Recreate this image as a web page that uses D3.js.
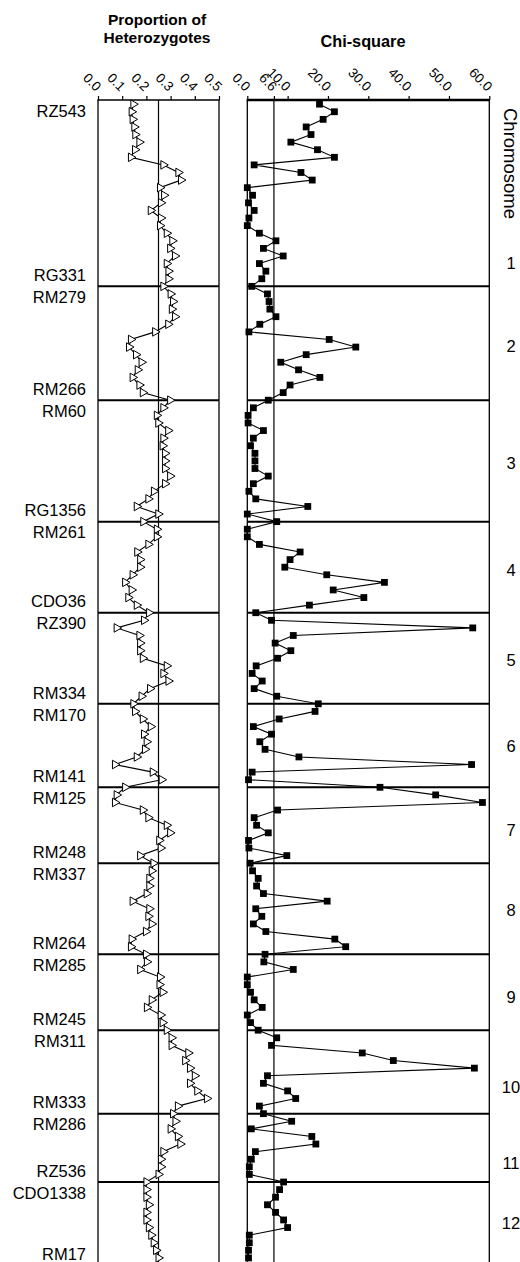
<!DOCTYPE html>
<html>
<head>
<meta charset="utf-8">
<script src="https://cdn.jsdelivr.net/npm/d3@7"></script>
<style>
body { margin: 0; background: #fff; }
text { font-family: "Liberation Sans", Arial, sans-serif; fill: #000; }
</style>
</head>
<body>
<div id="chart"></div>
<script>
var chromosomes = ["1", "2", "3", "4", "5", "6", "7", "8", "9", "10", "11", "12"];
// marker index where each chromosome starts (first is the top of the plot)
var chrStart = [0, 24, 39, 55, 67, 79, 90, 100, 112, 122, 133, 142];
var chrLabelPos = [20.9, 31.9, 47.3, 61.4, 73.3, 84.6, 95.7, 106.2, 117.7, 129.5, 139.5, 147.4];
var firstMarker = ["RZ543", "RM279", "RM60", "RM261", "RZ390", "RM170", "RM125", "RM337", "RM285", "RM311", "RM286", "CDO1338"];
var lastMarker = ["RG331", "RM266", "RG1356", "CDO36", "RM334", "RM141", "RM248", "RM264", "RM245", "RM333", "RZ536", "RM17"];

var het = [
  0.146, 0.139, 0.143, 0.150, 0.154, 0.171, 0.153, 0.136, 0.270, 0.332, 0.343, 0.256, 0.273, 0.260, 0.218, 0.260, 0.256, 0.284, 0.307, 0.298, 0.318, 0.284, 0.291, 0.291,
  0.270, 0.300, 0.310, 0.305, 0.318, 0.290, 0.236, 0.136, 0.128, 0.157, 0.180, 0.164, 0.143, 0.171, 0.185,
  0.298, 0.270, 0.243, 0.249, 0.290, 0.270, 0.267, 0.277, 0.277, 0.277, 0.298, 0.277, 0.231, 0.208, 0.160, 0.249,
  0.187, 0.243, 0.243, 0.208, 0.162, 0.174, 0.174, 0.143, 0.112, 0.139, 0.125, 0.160,
  0.211, 0.190, 0.077, 0.171, 0.174, 0.174, 0.185, 0.284, 0.270, 0.291, 0.215, 0.180,
  0.146, 0.153, 0.185, 0.218, 0.190, 0.201, 0.194, 0.160, 0.070, 0.226, 0.263,
  0.112, 0.077, 0.070, 0.185, 0.208, 0.284, 0.298, 0.253, 0.259, 0.174,
  0.229, 0.222, 0.212, 0.212, 0.201, 0.143, 0.212, 0.208, 0.222, 0.198, 0.139, 0.136,
  0.198, 0.202, 0.174, 0.256, 0.254, 0.267, 0.222, 0.202, 0.259, 0.267,
  0.284, 0.304, 0.304, 0.373, 0.360, 0.380, 0.400, 0.380, 0.410, 0.450, 0.330,
  0.310, 0.320, 0.300, 0.330, 0.340, 0.270, 0.260, 0.260, 0.250,
  0.200, 0.200, 0.200, 0.210, 0.200, 0.200, 0.210, 0.220, 0.230, 0.240, 0.250
];

var chi = [
  17.9, 21.6, 18.8, 14.6, 15.8, 10.8, 17.4, 21.6, 1.7, 13.3, 16.1, 0.0, 1.3, 0.3, 1.7, 0.4, 0.0, 3.0, 7.1, 4.0, 8.9, 3.0, 4.6, 3.6,
  1.1, 5.0, 5.4, 5.6, 7.1, 3.1, 0.4, 20.3, 26.9, 14.6, 8.3, 12.7, 18.0, 10.6, 8.9,
  5.2, 1.5, 0.2, 0.2, 4.0, 1.5, 0.8, 1.9, 1.9, 1.9, 5.2, 1.5, 0.4, 2.1, 15.0, 0.0,
  7.3, 0.0, 0.0, 3.0, 13.1, 10.6, 9.3, 19.7, 34.0, 21.3, 28.9, 15.4,
  2.1, 6.0, 55.9, 11.4, 6.9, 10.8, 7.5, 2.2, 1.2, 3.7, 1.7, 7.3,
  17.6, 16.8, 7.9, 1.5, 6.0, 3.1, 4.4, 12.8, 55.6, 1.2, 0.3,
  32.9, 46.7, 58.3, 7.5, 1.7, 2.3, 5.2, 0.3, 0.4, 9.8,
  0.7, 1.3, 2.7, 2.3, 4.0, 19.8, 2.1, 3.6, 1.5, 4.6, 21.7, 24.4,
  4.4, 4.1, 11.4, 0.0, 0.0, 0.8, 1.7, 3.7, 0.0, 0.8,
  2.7, 7.3, 6.0, 28.5, 36.2, 56.3, 5.0, 4.0, 10.0, 12.0, 3.0,
  4.0, 11.0, 1.0, 16.0, 17.0, 2.0, 1.0, 0.5, 0.5,
  9.0, 8.0, 7.0, 5.0, 7.0, 9.0, 10.0, 0.5, 0.5, 0.3, 0.3
];

var hetTicks = [0, 0.1, 0.2, 0.3, 0.4, 0.5];
var chiTicks = [0, 6.6, 10, 20, 30, 40, 50, 60];
var hetExpected = 0.25;
var chiCritical = 6.6;

var width = 520, height = 1262;
var plotTop = 100;

var y = d3.scaleLinear()
  .domain([-0.55, 152])
  .range([plotTop, 1257.9]);
var plotBottom = y(153.6);

var xHet = d3.scaleLinear().domain([0, 0.5]).range([98, 219]);
var xChi = d3.scaleLinear().domain([0, 60]).range([247.3, 489.3]);

var svg = d3.select("#chart").append("svg")
  .attr("width", width)
  .attr("height", height);

var fmt = d3.format(".1f");

function drawPanel(x, ticks, refValue, topWidth) {
  var g = svg.append("g");
  var x0 = x.range()[0], x1 = x.range()[1];

  // chromosome boundaries
  g.selectAll(".bound")
    .data(chrStart.slice(1))
    .enter().append("line")
    .attr("x1", x0).attr("x2", x1)
    .attr("y1", function(d) { return y(d); })
    .attr("y2", function(d) { return y(d); })
    .attr("stroke", "#000").attr("stroke-width", 2);

  g.append("line")
    .attr("x1", x0).attr("x2", x0).attr("y1", plotTop).attr("y2", plotBottom)
    .attr("stroke", "#000").attr("stroke-width", 1.3);
  g.append("line")
    .attr("x1", x1).attr("x2", x1).attr("y1", plotTop).attr("y2", plotBottom)
    .attr("stroke", "#000").attr("stroke-width", 1.3);
  g.append("line")
    .attr("x1", x(refValue)).attr("x2", x(refValue)).attr("y1", plotTop).attr("y2", plotBottom)
    .attr("stroke", "#000").attr("stroke-width", 1.2);

  var axis = g.append("g")
    .attr("transform", "translate(0," + plotTop + ")")
    .call(d3.axisTop(x).tickValues(ticks).tickFormat(fmt).tickSizeInner(4).tickSizeOuter(0));
  axis.select(".domain").remove();
  axis.selectAll(".tick line").attr("stroke-width", 1.2);
  axis.selectAll(".tick text")
    .attr("y", 0).attr("dy", 0)
    .attr("transform", "translate(-3,-8) rotate(45)")
    .style("text-anchor", "end")
    .style("font-size", "13.5px")
    .style("font-family", "Liberation Sans, Arial, sans-serif");

  g.append("line")
    .attr("x1", x0 - 0.6).attr("x2", x1 + 0.6).attr("y1", plotTop).attr("y2", plotTop)
    .attr("stroke", "#000").attr("stroke-width", topWidth);
  return g;
}

var gHet = drawPanel(xHet, hetTicks, hetExpected, 1.6);
var gChi = drawPanel(xChi, chiTicks, chiCritical, 2.6);

var lineHet = d3.line()
  .x(function(d) { return xHet(d); })
  .y(function(d, i) { return y(i); });
var lineChi = d3.line()
  .x(function(d) { return xChi(d); })
  .y(function(d, i) { return y(i); });

gHet.append("path")
  .datum(het)
  .attr("d", lineHet)
  .attr("fill", "none").attr("stroke", "#000").attr("stroke-width", 1.1);

gHet.selectAll(".tri")
  .data(het)
  .enter().append("path")
  .attr("class", "tri")
  .attr("d", d3.symbol().type(d3.symbolTriangle).size(32))
  .attr("transform", function(d, i) { return "translate(" + xHet(d) + "," + y(i) + ") rotate(90)"; })
  .attr("fill", "#fff").attr("stroke", "#000").attr("stroke-width", 1);

gChi.append("path")
  .datum(chi)
  .attr("d", lineChi)
  .attr("fill", "none").attr("stroke", "#000").attr("stroke-width", 1.1);

gChi.selectAll(".sq")
  .data(chi)
  .enter().append("rect")
  .attr("class", "sq")
  .attr("x", function(d) { return xChi(d) - 3.4; })
  .attr("y", function(d, i) { return y(i) - 3.4; })
  .attr("width", 6.8).attr("height", 6.8)
  .attr("fill", "#000");

// marker names at the ends of each chromosome
chromosomes.forEach(function(c, k) {
  var yStart = k == 0 ? plotTop : y(chrStart[k]);
  var yEnd = k == chromosomes.length - 1 ? plotBottom - 5 : y(chrStart[k + 1]);
  svg.append("text")
    .attr("x", 86).attr("y", yStart + 11).attr("dy", "0.35em")
    .style("text-anchor", "end").style("font-size", "16.5px")
    .text(firstMarker[k]);
  svg.append("text")
    .attr("x", 86).attr("y", yEnd - 11).attr("dy", "0.35em")
    .style("text-anchor", "end").style("font-size", "16.5px")
    .text(lastMarker[k]);
});

svg.selectAll(".chrnum")
  .data(chromosomes)
  .enter().append("text")
  .attr("class", "chrnum")
  .attr("x", 511)
  .attr("y", function(d, i) { return y(chrLabelPos[i]); })
  .attr("dy", "0.35em")
  .style("text-anchor", "middle").style("font-size", "16.5px")
  .text(function(d) { return d; });

svg.append("text")
  .attr("transform", "translate(504,108) rotate(90)")
  .style("font-size", "18.5px")
  .text("Chromosome");

svg.append("text")
  .attr("x", 157).attr("y", 25)
  .style("text-anchor", "middle").style("font-size", "15.5px").style("font-weight", "bold")
  .text("Proportion of");
svg.append("text")
  .attr("x", 157).attr("y", 43)
  .style("text-anchor", "middle").style("font-size", "15.5px").style("font-weight", "bold")
  .text("Heterozygotes");
svg.append("text")
  .attr("x", 363).attr("y", 47)
  .style("text-anchor", "middle").style("font-size", "16.3px").style("font-weight", "bold")
  .text("Chi-square");
</script>
</body>
</html>
